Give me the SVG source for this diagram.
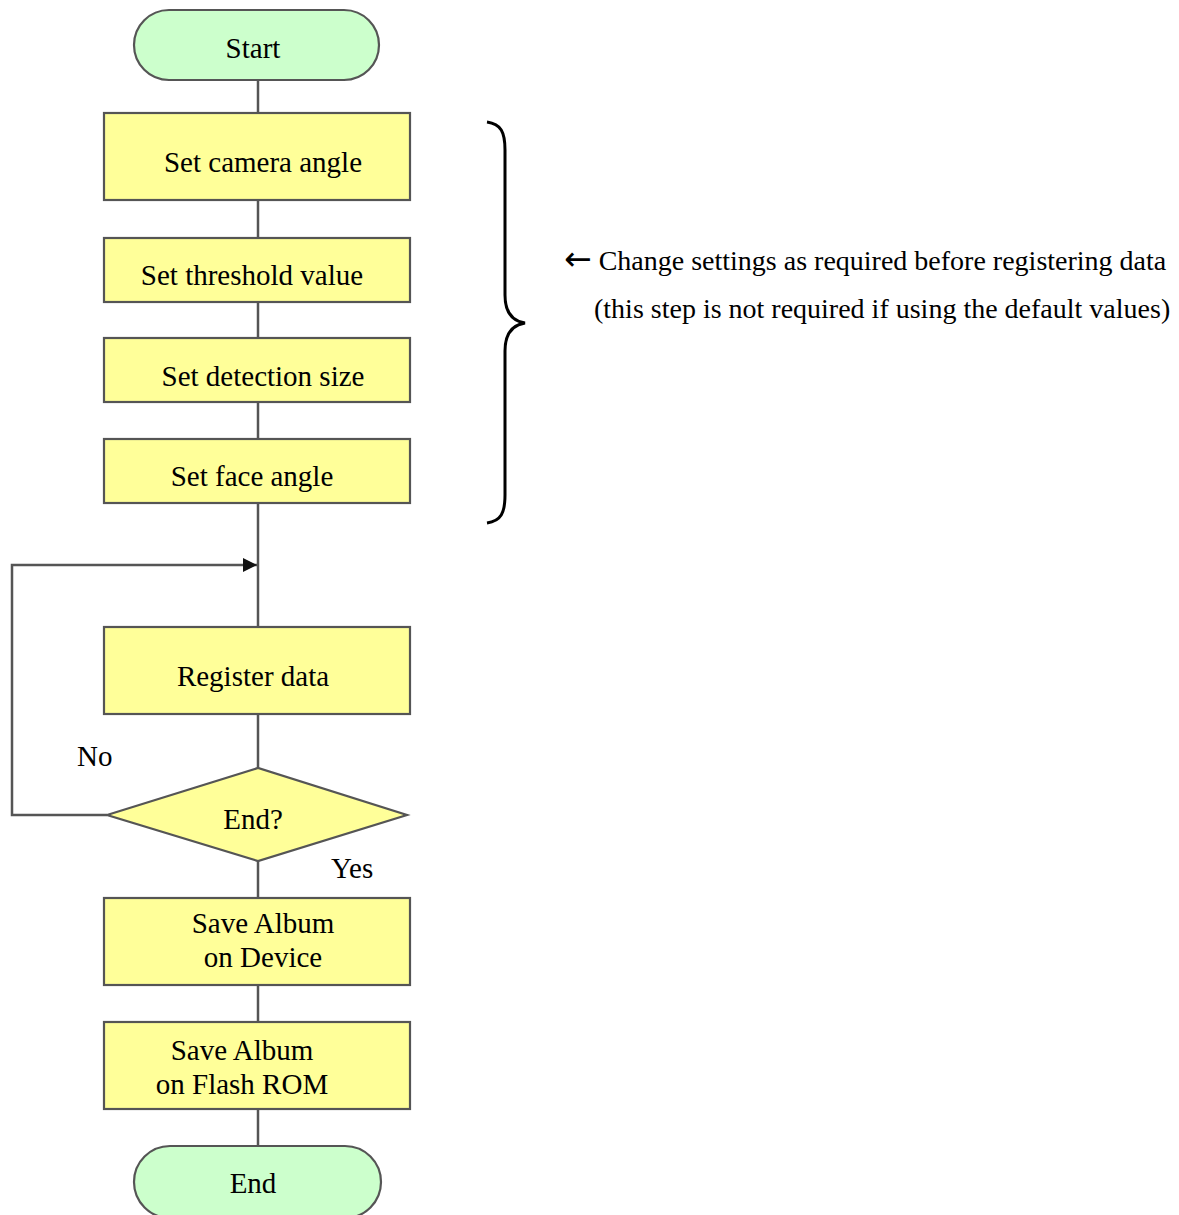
<svg xmlns="http://www.w3.org/2000/svg" width="1179" height="1215" viewBox="0 0 1179 1215">
<style>
text{font-family:"Liberation Serif","Times New Roman",serif;font-size:29px;fill:#000}
.note{font-size:28px}
.arr{font-family:"DejaVu Sans",sans-serif;font-size:33px}
.box{fill:#ffff99;stroke:#555;stroke-width:2.2}
.term{fill:#ccffcc;stroke:#555;stroke-width:2.2}
.ln{fill:none;stroke:#555;stroke-width:2.5}
.mid{text-anchor:middle}
</style>
<defs>
<marker id="ah" viewBox="0 0 10 10" refX="10" refY="5" markerWidth="14" markerHeight="14" markerUnits="userSpaceOnUse" orient="auto">
<path d="M0,0 L10,5 L0,10 z" fill="#111"/>
</marker>
</defs>
<g id="connectors">
<line class="ln" x1="258" y1="80" x2="258" y2="113"/>
<line class="ln" x1="258" y1="200" x2="258" y2="238"/>
<line class="ln" x1="258" y1="302" x2="258" y2="338"/>
<line class="ln" x1="258" y1="402" x2="258" y2="439"/>
<line class="ln" x1="258" y1="503" x2="258" y2="627"/>
<line class="ln" x1="258" y1="714" x2="258" y2="768"/>
<line class="ln" x1="258" y1="861" x2="258" y2="898"/>
<line class="ln" x1="258" y1="985" x2="258" y2="1022"/>
<line class="ln" x1="258" y1="1109" x2="258" y2="1146"/>
<polyline class="ln" points="107,815 12,815 12,565 257,565" marker-end="url(#ah)"/>
<text x="77" y="766">No</text>
<text x="331" y="878">Yes</text>
</g>
<g id="start">
<rect class="term" x="134" y="10" width="245" height="70" rx="35" ry="35"/>
<text class="mid" x="253" y="58">Start</text>
</g>
<g id="camera">
<rect class="box" x="104" y="113" width="306" height="87"/>
<text class="mid" x="263" y="172">Set camera angle</text>
</g>
<g id="threshold">
<rect class="box" x="104" y="238" width="306" height="64"/>
<text class="mid" x="252" y="285">Set threshold value</text>
</g>
<g id="detection">
<rect class="box" x="104" y="338" width="306" height="64"/>
<text class="mid" x="263" y="386">Set detection size</text>
</g>
<g id="face">
<rect class="box" x="104" y="439" width="306" height="64"/>
<text class="mid" x="252" y="486">Set face angle</text>
</g>
<g id="register">
<rect class="box" x="104" y="627" width="306" height="87"/>
<text class="mid" x="253" y="686">Register data</text>
</g>
<g id="decision">
<polygon class="box" points="107,815 258,768 407,815 258,861"/>
<text class="mid" x="253" y="829">End?</text>
</g>
<g id="device">
<rect class="box" x="104" y="898" width="306" height="87"/>
<text class="mid" x="263" y="933">Save Album</text>
<text class="mid" x="263" y="967">on Device</text>
</g>
<g id="flash">
<rect class="box" x="104" y="1022" width="306" height="87"/>
<text class="mid" x="242" y="1060">Save Album</text>
<text class="mid" x="242" y="1094">on Flash ROM</text>
</g>
<g id="end">
<rect class="term" x="134" y="1146" width="247" height="72" rx="36" ry="36"/>
<text class="mid" x="253" y="1193">End</text>
</g>
<g id="note">
<path d="M487,122 C501,124 505,132 505,150 L505,295 C505,312 512,321 525,323 C512,325 505,334 505,351 L505,495 C505,513 501,521 487,523" fill="none" stroke="#000" stroke-width="3"/>
<text class="note" x="564" y="270"><tspan class="arr">←</tspan> Change settings as required before registering data</text>
<text class="note" x="594" y="318">(this step is not required if using the default values)</text>
</g>
</svg>
